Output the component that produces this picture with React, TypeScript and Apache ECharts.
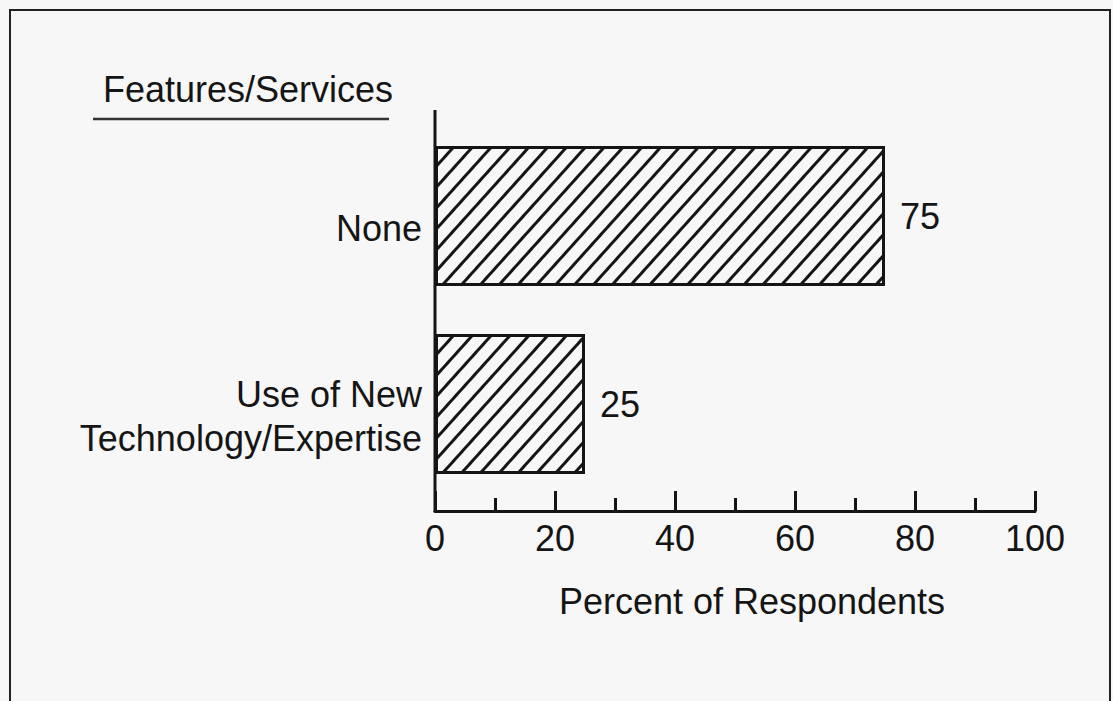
import React, { useEffect, useRef } from "react";
import * as echarts from "echarts";

const categories: string[] = ["None", "Use of New\nTechnology/Expertise"];
const values: number[] = [75, 25];
const axisMin = 0;
const axisMax = 100;
const axisInterval = 20;
const titleText = "Features/Services";
const axisTitle = "Percent of Respondents";

const FONT = "'Liberation Sans', Arial, Helvetica, sans-serif";
const INK = "#151515";
const BG = "#f7f7f7";

export default function App() {
  const ref = useRef<HTMLDivElement>(null);

  useEffect(() => {
    if (!ref.current) return;
    const chart = echarts.init(ref.current, null, { renderer: "svg" });
    const option: any = {
      animation: false,
      backgroundColor: BG,
      grid: { left: 435, right: 78, top: 122, bottom: 203, containLabel: false },
      xAxis: {
        type: "value",
        min: axisMin,
        max: axisMax,
        interval: axisInterval,
        offset: 13,
        axisLine: { show: true, lineStyle: { color: INK, width: 3 } },
        axisTick: { show: true, inside: true, length: 20, lineStyle: { color: INK, width: 3 } },
        minorTick: { show: true, splitNumber: 2, length: 13, lineStyle: { color: INK, width: 3 } },
        splitLine: { show: false },
        axisLabel: { color: INK, fontSize: 36, fontFamily: FONT, margin: 9 },
        name: axisTitle,
        nameLocation: "middle",
        nameGap: 72,
        nameTextStyle: { color: INK, fontSize: 36, fontFamily: FONT, padding: [0, 0, 0, 34] },
      },
      yAxis: {
        type: "category",
        data: categories,
        inverse: true,
        axisLine: { show: false },
        axisTick: { show: false },
        axisLabel: {
          margin: 13,
          align: "right",
          formatter: (v: string) =>
            "{s| }\n" + v.split("\n").map((s) => `{t|${s}}`).join("\n"),
          rich: {
            s: { fontSize: 2, lineHeight: 24, height: 24 },
            t: { color: INK, fontSize: 36, fontFamily: FONT, lineHeight: 44, align: "right" },
          },
        },
      },
      series: [
        {
          type: "bar",
          data: values,
          barWidth: 140,
          itemStyle: {
            color: BG,
            borderColor: INK,
            borderWidth: 3,
            decal: {
              symbol: "rect",
              symbolSize: 1,
              color: INK,
              backgroundColor: BG,
              dashArrayX: [1, 0],
              dashArrayY: [2.5, 10.5],
              rotation: (-48 * Math.PI) / 180,
            },
          },
          label: {
            show: true,
            position: "right",
            distance: 15,
            color: INK,
            fontSize: 36,
            fontFamily: FONT,
          },
        },
      ],
      graphic: [
        {
          type: "rect",
          shape: { x: 10, y: 10, width: 1100, height: 760 },
          style: { fill: "none", stroke: "#222", lineWidth: 2 },
          silent: true,
        },
        {
          type: "text",
          style: {
            text: titleText,
            x: 103,
            y: 89,
            verticalAlign: "middle",
            fill: INK,
            font: `36px ${FONT}`,
          },
        },
        {
          type: "line",
          shape: { x1: 93, y1: 119, x2: 389, y2: 119 },
          style: { stroke: "#333", lineWidth: 2.5 },
        },
        {
          type: "line",
          shape: { x1: 435, y1: 110, x2: 435, y2: 512 },
          style: { stroke: INK, lineWidth: 3 },
        },
      ],
    };
    chart.setOption(option);
    return () => chart.dispose();
  }, []);

  return (
    <div
      ref={ref}
      style={{ position: "fixed", left: 0, top: 0, width: 1113, height: 701 }}
    />
  );
}
